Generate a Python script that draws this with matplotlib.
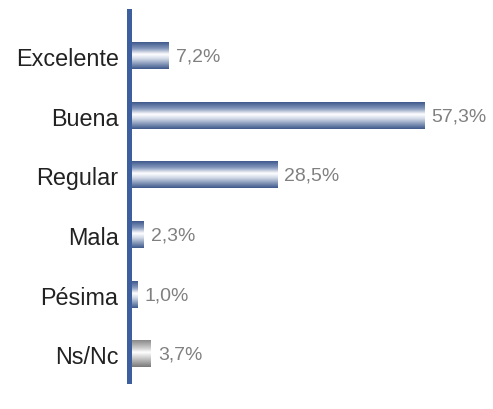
import matplotlib
matplotlib.use("Agg")
import matplotlib.pyplot as plt
import numpy as np
from matplotlib.colors import LinearSegmentedColormap

categories = ["Excelente", "Buena", "Regular", "Mala", "Pésima", "Ns/Nc"]
values = [7.2, 57.3, 28.5, 2.3, 1.0, 3.7]
labels = ["7,2%", "57,3%", "28,5%", "2,3%", "1,0%", "3,7%"]

plt.rcParams['font.family'] = ['Liberation Sans', 'DejaVu Sans']

fig = plt.figure(figsize=(4.93, 4.10), dpi=100)
W, H = 493, 410
left, right, top, bottom = 129, 493, 12, 382
ax = fig.add_axes([left / W, 1 - bottom / H, (right - left) / W, (bottom - top) / H])

blue = LinearSegmentedColormap.from_list("b", [(0, "#3f5a8c"), (0.25, "#8a9cbf"), (0.45, "#ffffff"), (0.6, "#d8dfec"), (1, "#3f5a8c")])
grey = LinearSegmentedColormap.from_list("g", [(0, "#8a8a8a"), (0.3, "#cfcfcf"), (0.45, "#ffffff"), (0.65, "#d0d0d0"), (1, "#7a7a7a")])

grad = np.linspace(0, 1, 64).reshape(-1, 1)
h = 0.44
x0 = 0
for i, (v, lab) in enumerate(zip(values, labels)):
    cmap = grey if categories[i] == "Ns/Nc" else blue
    ax.imshow(grad, cmap=cmap, aspect='auto', extent=[x0, x0 + v, i + h / 2, i - h / 2],
              interpolation='bilinear', zorder=2)
    ax.text(v + 1.4, i, lab, va='center', ha='left', fontsize=14, color='#808080')

ax.set_xlim(-0.6, 70.8)
ax.set_ylim(5.45, -0.755)
ax.set_yticks(range(len(categories)))
ax.set_yticklabels(categories, fontsize=16.8, color='#222222')
ax.tick_params(axis='y', length=0, pad=7.5)
ax.set_xticks([])
for s in ['top', 'right', 'bottom']:
    ax.spines[s].set_visible(False)
ax.spines['left'].set_color('#3d5f9e')
ax.spines['left'].set_linewidth(3.6)
ax.spines['left'].set_zorder(3)

fig.savefig("out.png", dpi=100)
